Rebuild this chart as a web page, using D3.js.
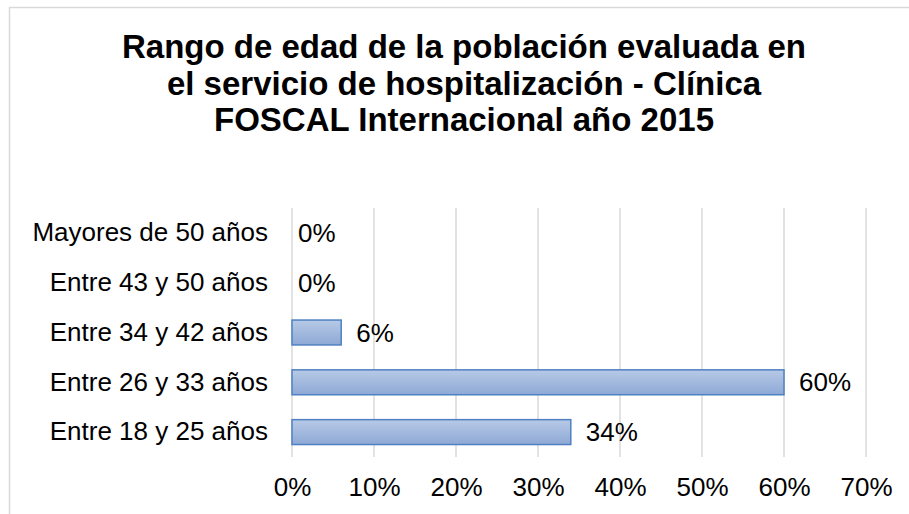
<!DOCTYPE html>
<html>
<head>
<meta charset="utf-8">
<script src="https://cdn.jsdelivr.net/npm/d3@7"></script>
<style>
  html, body { margin: 0; padding: 0; background: #fff; }
  svg { display: block; font-family: "Liberation Sans", Arial, sans-serif; }
</style>
</head>
<body>
<div id="chart"></div>
<script>
(function () {
  "use strict";

  var categories = ["Mayores de 50 años", "Entre 43 y 50 años", "Entre 34 y 42 años", "Entre 26 y 33 años", "Entre 18 y 25 años"];
  var values     = [0, 0, 6, 60, 34];
  var ticks      = [0, 10, 20, 30, 40, 50, 60, 70];
  var titleLines = ["Rango de edad de la población evaluada en", "el servicio de hospitalización - Clínica", "FOSCAL Internacional año 2015"];

  var W = 909, H = 514;
  var FONT = "Liberation Sans, Arial, sans-serif";
  var margin = { top: 208, left: 292, right: 43, bottom: 57 };
  var width  = W - margin.left - margin.right;
  var height = H - margin.top - margin.bottom;

  var svg = d3.select("#chart").append("svg")
    .attr("width", W).attr("height", H);

  var grad = svg.append("defs").append("linearGradient")
    .attr("id", "barGrad").attr("x1", 0).attr("y1", 0).attr("x2", 0).attr("y2", 1);
  grad.append("stop").attr("offset", "0%").attr("stop-color", "#b7c9e6");
  grad.append("stop").attr("offset", "100%").attr("stop-color", "#8ea9d6");

  // chart frame (cut off at right/bottom)
  svg.append("rect")
    .attr("x", 9.5).attr("y", 7.5)
    .attr("width", W).attr("height", H)
    .attr("fill", "none").attr("stroke", "#d9d9d9").attr("stroke-width", 1.5);

  svg.append("text")
    .attr("x", 464).attr("y", 58)
    .attr("text-anchor", "middle")
    .attr("font-size", "33px").attr("font-weight", "bold").attr("fill", "#000")
    .selectAll("tspan").data(titleLines).enter().append("tspan")
      .attr("x", 464).attr("dy", function (d, i) { return i === 0 ? 0 : 36.5; })
      .text(function (d) { return d; });

  var g = svg.append("g").attr("transform", "translate(" + margin.left + "," + margin.top + ")");

  var x = d3.scaleLinear().domain([0, 70]).range([0, width]);
  var y = d3.scaleBand().domain(categories).range([0, height]).paddingInner(0.5).paddingOuter(0.25);

  // gridlines
  g.selectAll(".grid").data(ticks).enter().append("line")
    .attr("x1", function (d) { return x(d); }).attr("x2", function (d) { return x(d); })
    .attr("y1", 0).attr("y2", height)
    .attr("stroke", "#d9d9d9").attr("stroke-width", 1.5);

  g.append("g")
    .attr("transform", "translate(0," + height + ")")
    .call(d3.axisBottom(x).tickValues(ticks).tickFormat(function (d) { return d + "%"; }).tickSize(0).tickPadding(21))
    .call(function (a) {
      a.select(".domain").remove();
      a.selectAll("text").attr("font-size", "26px").attr("fill", "#000").attr("font-family", FONT);
    });

  g.append("g")
    .call(d3.axisLeft(y).tickSize(0).tickPadding(24))
    .call(function (a) {
      a.select(".domain").remove();
      a.selectAll("text").attr("font-size", "26px").attr("fill", "#000").attr("font-family", FONT);
    });

  g.selectAll(".bar").data(values).enter().append("rect")
    .filter(function (d) { return d > 0; })
    .attr("x", x(0))
    .attr("y", function (d) { return y(categories[values.indexOf(d)]); })
    .attr("width", function (d) { return x(d) - x(0); })
    .attr("height", y.bandwidth())
    .attr("fill", "url(#barGrad)")
    .attr("stroke", "#4f81c2").attr("stroke-width", 1.5);

  g.selectAll(".lbl").data(values).enter().append("text")
    .attr("x", function (d) { return x(d) + (d > 0 ? 15 : 6); })
    .attr("y", function (d, i) { return y(categories[i]) + y.bandwidth() / 2; })
    .attr("dy", "0.35em")
    .attr("font-size", "26px").attr("fill", "#000")
    .text(function (d) { return d + "%"; });
}());
</script>
</body>
</html>
